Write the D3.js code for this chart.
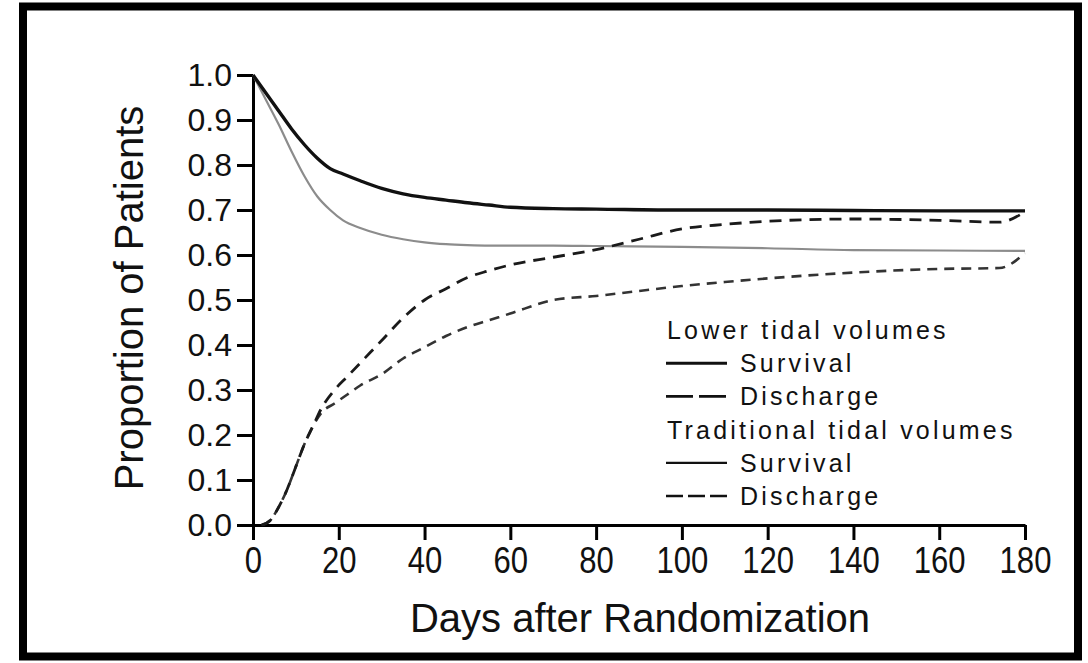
<!DOCTYPE html>
<html>
<head>
<meta charset="utf-8">
<script src="https://cdn.jsdelivr.net/npm/d3@7"></script>
<style>
body { margin: 0; background: #fff; }
svg { display: block; }
</style>
</head>
<body>
<svg id="chart"></svg>
<script>
var width = 1088;
var height = 663;

// survival curves (days, proportion)
var survDays = [0, 3, 6, 9, 12, 15, 18, 21, 25, 30, 35, 40, 45, 50, 55, 60, 70, 80, 100, 120, 140, 160, 180];
var lowerSurvival = [1.0, 0.96, 0.92, 0.88, 0.845, 0.815, 0.792, 0.78, 0.765, 0.748, 0.736, 0.728, 0.722, 0.716, 0.711, 0.706, 0.703, 0.702, 0.70, 0.70, 0.699, 0.698, 0.698];
var tradSurvival = [1.0, 0.945, 0.89, 0.83, 0.775, 0.73, 0.70, 0.677, 0.66, 0.645, 0.635, 0.628, 0.624, 0.622, 0.621, 0.621, 0.621, 0.62, 0.618, 0.615, 0.611, 0.61, 0.609];

// discharge curves
var dischDays = [2, 4, 6, 8, 10, 12, 14, 16, 19, 22, 25, 30, 35, 40, 45, 50, 55, 60, 70, 80, 90, 100, 110, 120, 140, 160, 174, 180];
var lowerDischarge = [0, 0.01, 0.04, 0.08, 0.13, 0.18, 0.22, 0.26, 0.3, 0.33, 0.36, 0.41, 0.46, 0.5, 0.525, 0.55, 0.565, 0.578, 0.595, 0.612, 0.635, 0.658, 0.668, 0.675, 0.68, 0.677, 0.673, 0.696];
var tradDischarge = [0, 0.01, 0.04, 0.08, 0.13, 0.18, 0.22, 0.25, 0.27, 0.29, 0.31, 0.335, 0.37, 0.395, 0.42, 0.44, 0.455, 0.47, 0.5, 0.509, 0.52, 0.531, 0.54, 0.548, 0.561, 0.569, 0.571, 0.604];

var xTicks = [0, 20, 40, 60, 80, 100, 120, 140, 160, 180];
var yTicks = [0.0, 0.1, 0.2, 0.3, 0.4, 0.5, 0.6, 0.7, 0.8, 0.9, 1.0];

var legendLabels = ["Lower tidal volumes", "Survival", "Discharge", "Traditional tidal volumes", "Survival", "Discharge"];

var font = "'Liberation Sans', Arial, Helvetica, sans-serif";

var svg = d3.select("svg#chart")
    .attr("width", width)
    .attr("height", height);

// outer frame
svg.append("rect")
    .attr("x", 23)
    .attr("y", 6.5)
    .attr("width", 1055)
    .attr("height", 650)
    .attr("fill", "#fff")
    .attr("stroke", "#000")
    .attr("stroke-width", 8);

var x = d3.scaleLinear().domain([0, 180]).range([253, 1025]);
var y = d3.scaleLinear().domain([0, 1]).range([525, 75]);

// x axis (labels are narrow in the original, so squeeze them)
var xAxis = svg.append("g")
    .attr("transform", "translate(0," + y(0) + ")")
    .call(d3.axisBottom(x).tickValues(xTicks).tickSize(15).tickSizeOuter(0).tickPadding(7));
xAxis.select(".domain").attr("stroke-width", 3);
xAxis.selectAll(".tick line").attr("stroke-width", 3);
xAxis.selectAll("text")
    .attr("font-family", font)
    .attr("font-size", 37)
    .attr("transform", "scale(0.84,1)")
    .attr("fill", "#111");

// y axis
var yAxis = svg.append("g")
    .attr("transform", "translate(" + x(0) + ",0)")
    .call(d3.axisLeft(y).tickValues(yTicks).tickFormat(d3.format(".1f")).tickSize(16).tickSizeOuter(0).tickPadding(5));
yAxis.select(".domain").attr("stroke-width", 3);
yAxis.selectAll(".tick line").attr("stroke-width", 3);
yAxis.selectAll("text")
    .attr("font-family", font)
    .attr("font-size", 32)
    .attr("fill", "#111");

// axis titles
svg.append("text")
    .attr("x", 640)
    .attr("y", 632)
    .attr("text-anchor", "middle")
    .attr("font-family", font)
    .attr("font-size", 40)
    .attr("fill", "#111")
    .text("Days after Randomization");

svg.append("text")
    .attr("transform", "translate(143,298) rotate(-90)")
    .attr("text-anchor", "middle")
    .attr("font-family", font)
    .attr("font-size", 40)
    .attr("fill", "#111")
    .text("Proportion of Patients");

// curves
var line = d3.line()
    .x(function(d) { return x(d[0]); })
    .y(function(d) { return y(d[1]); })
    .curve(d3.curveMonotoneX);

var series = [
    { days: survDays, vals: tradSurvival, color: "#8c8c8c", width: 2.2, dash: null },
    { days: survDays, vals: lowerSurvival, color: "#111", width: 3.4, dash: null },
    { days: dischDays, vals: tradDischarge, color: "#333", width: 2.6, dash: "10,7" },
    { days: dischDays, vals: lowerDischarge, color: "#1a1a1a", width: 2.8, dash: "12,8" }
];

series.forEach(function(s) {
    svg.append("path")
        .datum(d3.zip(s.days, s.vals))
        .attr("d", line)
        .attr("fill", "none")
        .attr("stroke", s.color)
        .attr("stroke-width", s.width)
        .attr("stroke-dasharray", s.dash);
});

// legend: headings and line samples
var legendKeys = [null, { w: 3, dash: null }, { w: 2.6, dash: "27,6" }, null, { w: 2.2, dash: null }, { w: 2.4, dash: "17,5" }];
var legend = svg.append("g").attr("transform", "translate(666,0)");
legendLabels.forEach(function(label, i) {
    var base = 339 + i * 33.2;
    var key = legendKeys[i];
    legend.append("text")
        .attr("x", key ? 74 : 1)
        .attr("y", base)
        .attr("font-family", font)
        .attr("font-size", 25)
        .attr("letter-spacing", 3.2)
        .attr("fill", "#111")
        .text(label);
    if (key) {
        legend.append("line")
            .attr("x1", 0)
            .attr("x2", 61)
            .attr("y1", base - 9)
            .attr("y2", base - 9)
            .attr("stroke", "#111")
            .attr("stroke-width", key.w)
            .attr("stroke-dasharray", key.dash);
    }
});
</script>
</body>
</html>
